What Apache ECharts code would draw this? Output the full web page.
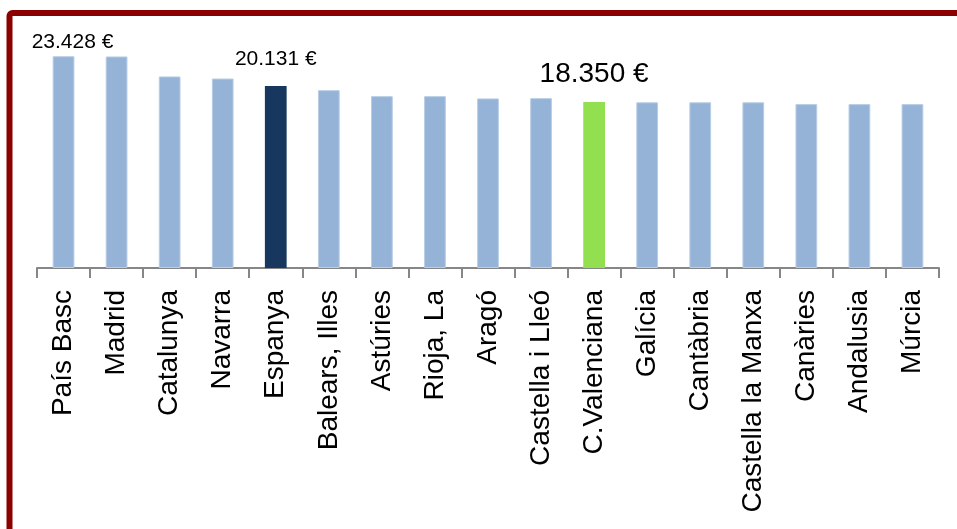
<!DOCTYPE html>
<html>
<head>
<meta charset="utf-8">
<script src="https://cdn.jsdelivr.net/npm/echarts@6/dist/echarts.min.js"></script>
<style>
html,body{margin:0;padding:0;background:#fff;}
#c{width:957px;height:529px;}
</style>
</head>
<body>
<div id="c"></div>
<script>
const categories = ['País Basc','Madrid','Catalunya','Navarra','Espanya','Balears, Illes','Astúries','Rioja, La','Aragó','Castella i Lleó','C.Valenciana','Galícia','Cantàbria','Castella la Manxa','Canàries','Andalusia','Múrcia'];
const values = [23428, 23400, 21190, 20960, 20131, 19670, 19010, 19010, 18760, 18790, 18350, 18330, 18330, 18330, 18130, 18130, 18130];
const labelledValues = {'País Basc':'23.428 €','Espanya':'20.131 €','C.Valenciana':'18.350 €'};

const baseColor = '#95B3D7';
const spainColor = '#17375E';
const cvColor = '#92E050';

const data = categories.map((c, i) => {
  const item = { value: values[i], itemStyle: { color: baseColor, borderColor: '#B9CDE5', borderWidth: 1 } };
  if (c === 'Espanya') item.itemStyle = { color: spainColor, borderWidth: 0 };
  if (c === 'C.Valenciana') item.itemStyle = { color: cvColor, borderWidth: 0 };
  if (labelledValues[c]) {
    item.label = { show: true, formatter: labelledValues[c], position: 'top', color: '#000', fontFamily: 'Liberation Sans', fontSize: 21 };
    if (c === 'País Basc') { item.label.offset = [9, 0]; item.label.distance = 4; }
    if (c === 'Espanya') { item.label.distance = 16; }
    if (c === 'C.Valenciana') { item.label.fontSize = 28; item.label.distance = 14; }
  }
  return item;
});

const chart = echarts.init(document.getElementById('c'), null, { renderer: 'canvas' });
chart.setOption({
  animation: false,
  backgroundColor: '#fff',
  grid: { left: 37, right: 18, top: 42, bottom: 261, containLabel: false },
  xAxis: {
    type: 'category',
    data: categories,
    axisLine: { lineStyle: { color: '#868686', width: 2 } },
    axisTick: { show: true, length: 10, lineStyle: { color: '#868686', width: 2 } },
    axisLabel: { rotate: 90, margin: 22, color: '#000', fontFamily: 'Liberation Sans', fontSize: 28, interval: 0 }
  },
  yAxis: {
    type: 'value', min: 0, max: 25000,
    show: false, splitLine: { show: false }
  },
  series: [{
    type: 'bar',
    data: data,
    barWidth: '41%',
    label: { show: false }
  }],
  graphic: [{
    type: 'rect',
    shape: { x: 9.5, y: 13, width: 1200, height: 1200, r: 3 },
    style: { fill: null, stroke: '#8B0000', lineWidth: 6 },
    silent: true
  }]
});
</script>
</body>
</html>
